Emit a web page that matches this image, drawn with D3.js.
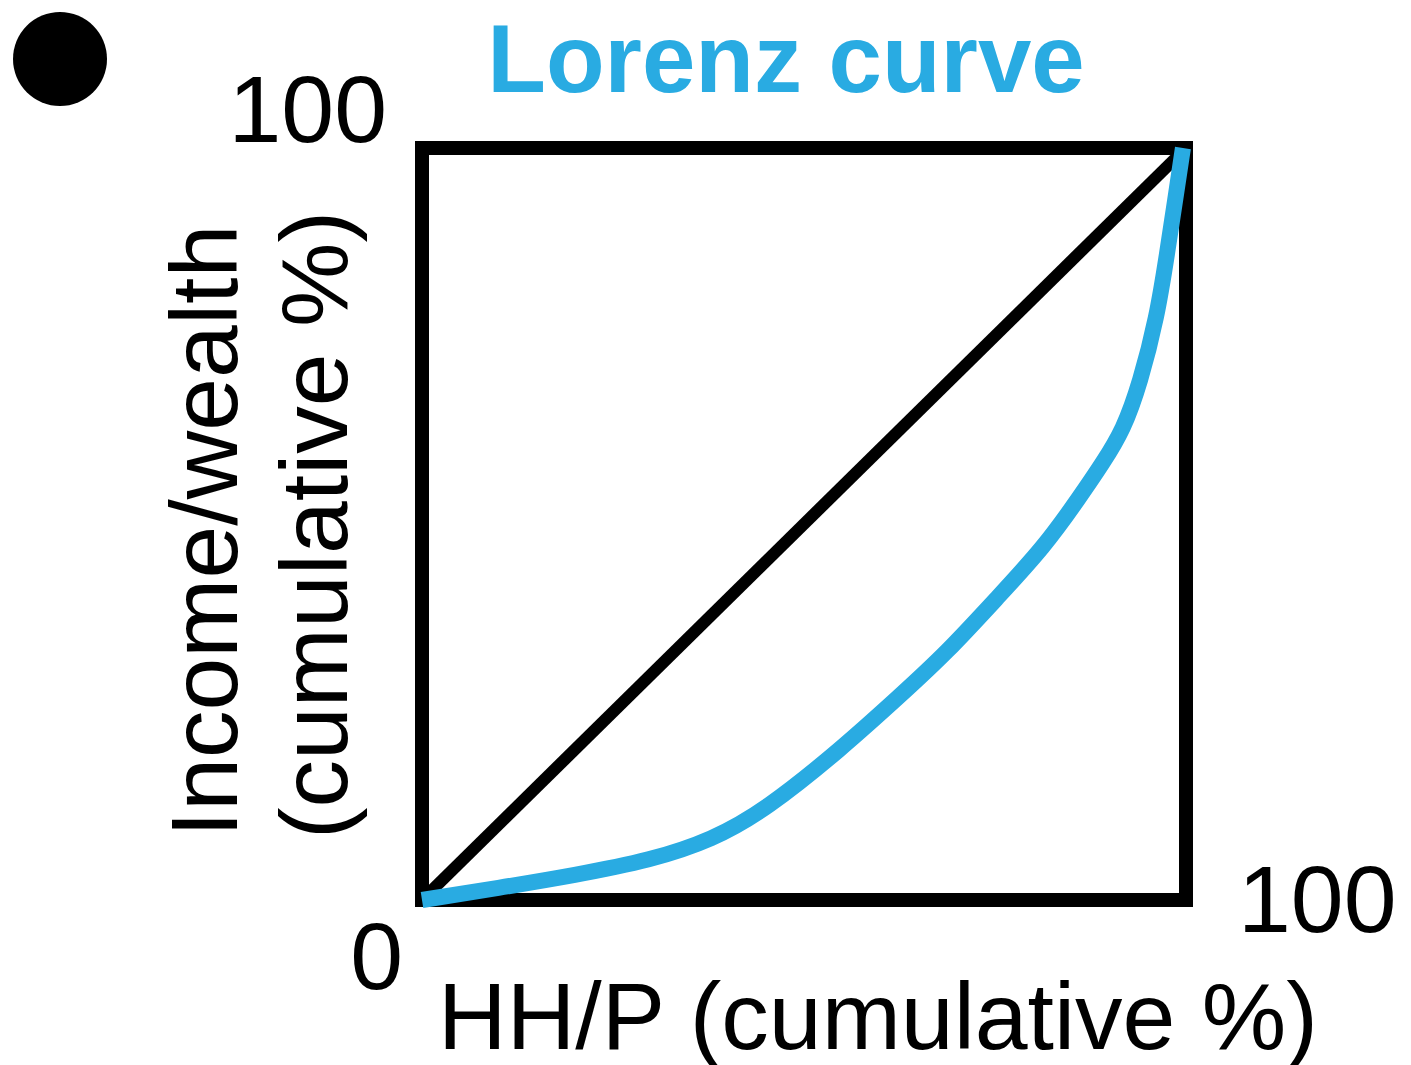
<!DOCTYPE html>
<html>
<head>
	<title>index</title>
	<meta charset="UTF-8">
	<script src="https://d3js.org/d3.v7.min.js" charset="utf-8"></script>
	<style>
		body { margin:0; background:#fff; }
		svg { display:block; }
		text { font-family: "Liberation Sans", Arial, sans-serif; fill:#000; }
	</style>
</head>
<body>
<script>
		// cumulative share of households / population (%)
		var hhShare = [0, 10, 20, 30, 38, 45, 55, 62.6, 68.6, 75.4, 81.4, 86.1, 89.1, 91.8, 94.0, 96.2, 97.5, 98.6, 99.6];
		// cumulative share of income / wealth (%)
		var incomeShare = [0, 1.6, 3.3, 5.3, 8.0, 12.0, 20.2, 27.2, 32.8, 40.3, 46.9, 53.6, 58.1, 62.5, 68.8, 77.5, 85.8, 93.2, 100];
		var equality = [0, 100];
		var xTicks = ["0", "100"];
		var yTicks = ["0", "100"];
		var title = "Lorenz curve";
		var xTitle = "HH/P (cumulative %)";
		var yTitle = ["Income/wealth", "(cumulative %)"];

		var width = 1411, height = 1065;
		var blue = "#29abe2";

		var svg = d3.select("body").append("svg").attr("width", width).attr("height", height);

		var x = d3.scaleLinear().domain([0, 100]).range([422, 1186]);
		var y = d3.scaleLinear().domain([0, 100]).range([900, 148]);

		// panel marker
		svg.append("circle").attr("cx", 60).attr("cy", 59).attr("r", 47).attr("fill", "#000");

		// title
		svg.append("text").attr("x", 786).attr("y", 92).attr("text-anchor", "middle")
			.attr("font-size", 96).attr("font-weight", "bold").style("fill", blue).text(title);

		// box
		svg.append("rect").attr("x", x(0)).attr("y", y(100))
			.attr("width", x(100) - x(0)).attr("height", y(0) - y(100))
			.attr("fill", "none").attr("stroke", "#000").attr("stroke-width", 14);

		// line of equality
		svg.append("line").attr("x1", x(equality[0])).attr("y1", y(equality[0]))
			.attr("x2", x(equality[1])).attr("y2", y(equality[1]))
			.attr("stroke", "#000").attr("stroke-width", 12);

		// lorenz curve (b-spline smooths the read-off points)
		var pts = hhShare.map(function(d, i) { return [d, incomeShare[i]]; });
		var line = d3.line().x(function(d) { return x(d[0]); }).y(function(d) { return y(d[1]); })
			.curve(d3.curveBasis);
		svg.append("path").datum(pts).attr("d", line)
			.attr("fill", "none").attr("stroke", blue).attr("stroke-width", 16);

		// tick labels
		svg.append("text").attr("x", x(0) - 19).attr("y", y(0) + 89).attr("text-anchor", "end")
			.attr("font-size", 95).text(xTicks[0]);
		svg.append("text").attr("x", x(100) + 52).attr("y", y(0) + 32).attr("text-anchor", "start")
			.attr("font-size", 95).text(xTicks[1]);
		svg.append("text").attr("x", x(0) - 35).attr("y", y(100) - 6).attr("text-anchor", "end")
			.attr("font-size", 95).text(yTicks[1]);

		// axis titles
		svg.append("text").attr("x", 878).attr("y", 1049).attr("text-anchor", "middle")
			.attr("font-size", 95).text(xTitle);

		var yt = svg.append("g").attr("transform", "translate(237,531) rotate(-90)");
		yt.append("text").attr("x", 0).attr("y", 0).attr("text-anchor", "middle")
			.attr("font-size", 95).text(yTitle[0]);
		yt.append("text").attr("x", 6).attr("y", 110).attr("text-anchor", "middle")
			.attr("font-size", 95).text(yTitle[1]);
</script>
</body>
</html>
